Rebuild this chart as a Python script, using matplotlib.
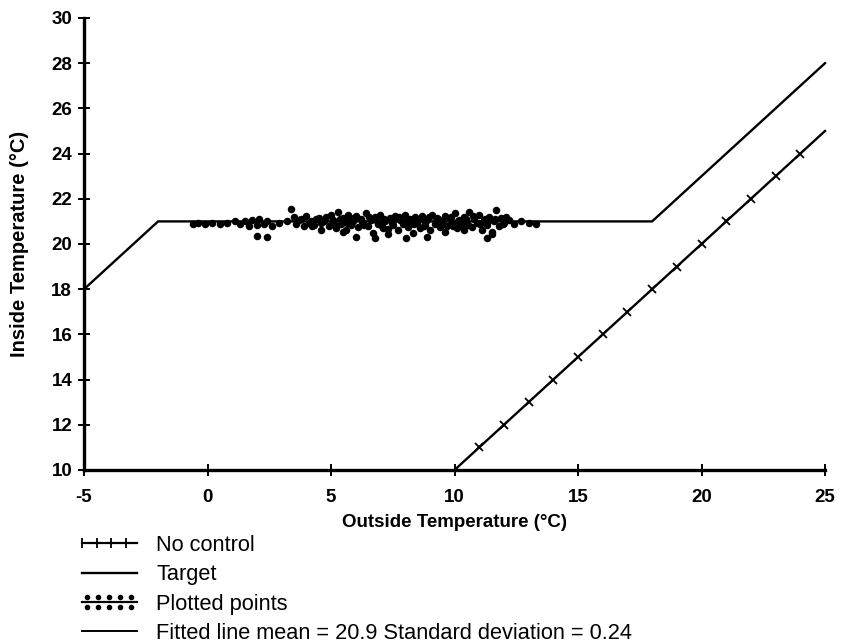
import matplotlib
matplotlib.use('Agg')
import matplotlib.pyplot as plt
from matplotlib.lines import Line2D
from matplotlib.legend_handler import HandlerBase

plt.rcParams['font.family'] = ['Liberation Sans', 'DejaVu Sans']

# ---- data ----
target_x = [-5, -2, 18, 25]
target_y = [18, 21, 21, 28]

nocontrol_x = [10, 25]
nocontrol_y = [10, 25]
nocontrol_mark_x = [11, 12, 13, 14, 15, 16, 17, 18, 19, 20, 21, 22, 23, 24]
nocontrol_mark_y = [11, 12, 13, 14, 15, 16, 17, 18, 19, 20, 21, 22, 23, 24]

points_x = [-0.6, -0.4, -0.1, 0.2, 0.5, 0.8, 1.1, 1.3, 1.5, 1.7, 1.8, 2.0, 2.0, 2.1, 2.3,
            2.4, 2.4, 2.6, 2.9, 3.2,
            3.4, 3.5, 3.6, 3.8, 3.9, 4.0, 4.2, 4.3, 4.5, 4.6, 4.8, 4.9, 5.0, 5.1, 5.2,
            5.3, 5.4, 5.5, 5.6, 5.7, 5.8, 5.9, 6.0, 6.1, 6.2, 6.3, 6.4, 6.5, 6.6, 6.7,
            6.8, 6.9, 7.0, 7.1, 7.2, 7.3, 7.4, 7.5, 7.6, 7.7, 7.8, 7.9, 8.0, 8.1, 8.2,
            8.3, 8.4, 8.5, 8.6, 8.7, 8.8, 8.9, 9.0, 9.1, 9.2, 9.3, 9.4, 9.5, 9.6, 9.7,
            9.8, 9.9, 10.0, 10.1, 10.2, 10.3, 10.4, 10.5, 10.6, 10.7, 10.8, 10.9, 11.0,
            11.1, 11.2, 11.3, 11.4, 11.5, 11.6, 11.7, 11.8, 11.9, 12.0, 12.2, 12.4, 12.7,
            13.0, 13.3,
            3.7, 4.1, 4.4, 4.7, 5.05, 5.35, 5.65, 5.95, 6.25, 6.55, 6.85, 7.15, 7.45,
            7.75, 8.05, 8.35, 8.65, 8.95, 9.25, 9.55, 9.85, 10.15, 10.45, 10.75, 11.05,
            11.35, 11.65, 11.95, 12.1,
            6.0, 6.8, 8.05, 8.9, 11.3, 11.5, 4.6, 5.5, 7.3, 9.6, 10.4,
            4.25, 5.15, 5.75, 6.35, 7.05, 7.55, 8.15, 8.75, 9.35, 9.95, 10.55, 11.25]
points_y = [20.9, 20.95, 20.9, 20.95, 20.9, 20.95, 21.0, 20.9, 21.0, 20.8, 21.05, 20.35, 20.85,
            21.1, 20.9, 20.3, 21.0, 20.8, 20.95, 21.0,
            21.55, 21.2, 20.9, 21.1, 20.8, 21.25, 21.0, 20.85, 21.15, 20.95, 21.2, 20.8,
            21.3, 21.05, 20.7, 21.4, 20.9, 21.15, 20.6, 21.3, 20.85, 21.0, 21.25, 20.75,
            21.1, 20.95, 21.35, 20.8, 21.05, 20.5, 21.2, 20.9, 21.3, 20.7, 21.0, 20.45,
            21.15, 20.85, 21.25, 20.6, 21.05, 20.9, 21.3, 20.75, 21.1, 20.5, 21.2, 20.95,
            20.7, 21.25, 20.85, 21.05, 20.6, 21.3, 20.9, 21.15, 20.75, 21.0, 21.25, 20.8,
            21.1, 20.95, 21.35, 20.7, 21.05, 20.85, 21.2, 20.9, 21.4, 20.75, 21.1, 20.95,
            21.3, 20.6, 21.05, 20.85, 21.2, 20.45, 21.0, 21.5, 20.8, 21.15, 20.95, 21.05,
            20.9, 21.0, 20.95, 20.9,
            21.05, 20.95, 21.1, 21.0, 20.9, 21.1, 20.95, 21.15, 20.9, 21.2, 21.0, 21.1,
            20.95, 21.2, 21.0, 20.9, 21.1, 21.2, 21.0, 20.9, 21.2, 21.0, 21.1, 21.25,
            20.9, 21.0, 21.1, 20.9, 21.2,
            20.3, 20.25, 20.25, 20.3, 20.25, 20.55, 20.6, 20.55, 20.65, 20.55, 20.6,
            20.8, 20.85, 21.15, 20.85, 20.8, 21.1, 20.85, 20.8, 21.1, 20.8, 20.85, 21.1]

x_ticks = [-5, 0, 5, 10, 15, 20, 25]
y_ticks = [10, 12, 14, 16, 18, 20, 22, 24, 26, 28, 30]

legend_labels = ['No control', 'Target', 'Plotted points',
                 'Fitted line mean = 20.9 Standard deviation = 0.24']

# ---- figure ----
fig = plt.figure(figsize=(8.41, 6.43), dpi=100)
ax = fig.add_axes([84 / 841, 1 - 470 / 643, (825 - 84) / 841, (470 - 18) / 643])

ax.plot(target_x, target_y, color='black', lw=1.7, clip_on=False)
ax.plot(nocontrol_x, nocontrol_y, color='black', lw=1.7, clip_on=False)
ax.plot(nocontrol_mark_x, nocontrol_mark_y, linestyle='none', marker='x',
        markersize=6, mew=1.3, color='black')
ax.plot(points_x, points_y, linestyle='none', marker='o', markersize=4.4,
        color='black')

ax.set_xlim(-5, 25)
ax.set_ylim(10, 30)
ax.set_xticks(x_ticks)
ax.set_xticklabels([str(t) for t in x_ticks])
ax.set_yticks(y_ticks)
ax.set_yticklabels([str(t) for t in y_ticks])
for s in ['top', 'right']:
    ax.spines[s].set_visible(False)
for s in ['left', 'bottom']:
    ax.spines[s].set_linewidth(2.4)
ax.tick_params(direction='inout', length=9, width=1.4, labelsize=13.5)
ax.tick_params(axis='x', pad=9)
ax.tick_params(axis='y', pad=4)
for lab in ax.get_xticklabels() + ax.get_yticklabels():
    lab.set_fontweight('bold')

ax.set_xlabel('Outside Temperature (°C)', fontsize=13.5, fontweight='bold', labelpad=6)
ax.set_ylabel('Inside Temperature (°C)', fontsize=14.5, fontweight='bold', labelpad=16)


class HandlerDots(HandlerBase):
    def create_artists(self, legend, orig_handle, xdescent, ydescent, width,
                       height, fontsize, trans):
        artists = []
        yc = height / 2 - ydescent
        line = Line2D([-xdescent, width - xdescent], [yc, yc], color='black', lw=1.6,
                      transform=trans)
        artists.append(line)
        n = 5
        xs = [-xdescent + width * (i + 0.5) / n for i in range(n)]
        for dy in (0.3 * height, -0.3 * height):
            pts = Line2D(xs, [yc + dy] * n, linestyle='none', marker='o',
                         markersize=3.0, color='black', transform=trans)
            artists.append(pts)
        return artists


class HandlerTicks(HandlerBase):
    def create_artists(self, legend, orig_handle, xdescent, ydescent, width,
                       height, fontsize, trans):
        yc = height / 2 - ydescent
        line = Line2D([-xdescent, width - xdescent], [yc, yc], color='black', lw=1.6,
                      transform=trans)
        n = 4
        xs = [-xdescent + width * 0.8 * i / (n - 1) for i in range(n)]
        ticks = Line2D(xs, [yc] * n, linestyle='none', marker='|', markersize=7,
                       mew=1.3, color='black', transform=trans)
        return [line, ticks]


h_nc = Line2D([], [], color='black')
h_t = Line2D([], [], color='black', lw=1.7)
h_p = Line2D([], [], color='black', marker='o')
h_f = Line2D([], [], color='black', lw=1.4)

fig.legend([h_nc, h_t, h_p, h_f], legend_labels,
           handler_map={h_nc: HandlerTicks(), h_p: HandlerDots()},
           loc='upper left', bbox_to_anchor=(82 / 841, 1 - 535 / 643),
           frameon=False, fontsize=15.7, handlelength=2.5, handletextpad=0.9,
           labelspacing=0.38, borderpad=0, borderaxespad=0)

fig.savefig('out.png', dpi=100)
